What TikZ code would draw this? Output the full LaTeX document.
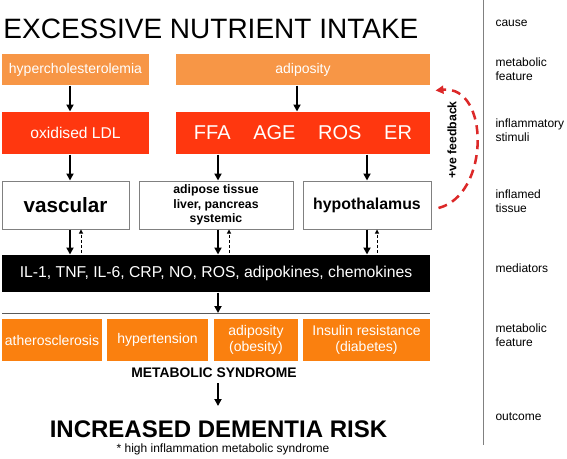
\documentclass[tikz,border=0pt]{standalone}
\usepackage{fontspec}
\setmainfont{Liberation Sans}
\usetikzlibrary{arrows.meta}

\tikzset{every picture/.style={line width=0.75pt}}
\tikzset{
  box/.style 2 args={minimum width=#1*0.75pt, minimum height=#2*0.75pt, inner sep=0pt, text=white, align=center},
  featbox/.style={fill={rgb, 255:red, 247; green, 150; blue, 70 }},
  stimbox/.style={fill={rgb, 255:red, 255; green, 55; blue, 15 }},
  tissbox/.style={draw={rgb, 255:red, 128; green, 128; blue, 128 }, fill=white, text=black},
  syndbox/.style={fill={rgb, 255:red, 250; green, 128; blue, 15 }},
  arr/.style={line width=1.5pt, -{Triangle[length=5.25pt, width=5.25pt]}},
  backarr/.style={line width=0.75pt, dash pattern=on 2.25pt off 1.5pt, -{Triangle[length=3pt, width=3pt]}},
  fbarr/.style={draw={rgb, 255:red, 220; green, 40; blue, 40 }, line width=1.9pt, dash pattern=on 6.75pt off 4.5pt, -{Triangle[length=6pt, width=6pt]}},
  side/.style={anchor=west, align=left, inner sep=0pt, font=\fontsize{9}{10.5}\selectfont}
}

\begin{document}
\begin{tikzpicture}[x=0.75pt,y=0.75pt,yscale=-1,xscale=1]
	\useasboundingbox (0,0) rectangle (567,458);

	% Text Node
	\node [anchor=base west, inner sep=0pt, font=\fontsize{21}{25}\selectfont] (title) at (3,38) {EXCESSIVE NUTRIENT INTAKE};

	%Shape: Rectangle 
	\node [box={147}{31}, featbox, font=\fontsize{10.5}{12}\selectfont] (hyper) at (75.5,69.5) {hypercholesterolemia};
	\node [box={254}{31}, featbox, font=\fontsize{10.5}{12}\selectfont] (adip) at (303,69.5) {adiposity};
	%Shape: Rectangle 
	\node [box={147}{42}, stimbox, font=\fontsize{11.7}{14}\selectfont] (ldl) at (75.5,133) {oxidised LDL};
	\node [box={254}{42}, stimbox, font=\fontsize{15}{18}\selectfont] (stim) at (303,133) {FFA\hspace{17pt}AGE\hspace{17pt}ROS\hspace{17pt}ER};
	%Shape: Rectangle 
	\node [box={127}{48}, tissbox, font=\fontsize{15.5}{18}\selectfont\bfseries] (vasc) at (65.5,205) {vascular};
	\node [box={154}{48}, tissbox, font=\fontsize{9.2}{10.9}\selectfont\bfseries] (tiss) at (216,205) {adipose tissue\\liver, pancreas\\systemic};
	\node [box={128}{48}, tissbox, font=\fontsize{11.9}{14}\selectfont\bfseries] (hypo) at (367,205) {hypothalamus};
	%Shape: Rectangle 
	\node [box={428}{37}, fill=black, font=\fontsize{11.8}{14}\selectfont] (medi) at (216,273.5) {IL-1, TNF, IL-6, CRP, NO, ROS, adipokines, chemokines};
	%Shape: Rectangle 
	\node [box={100}{42}, syndbox, font=\fontsize{10.5}{12}\selectfont] (athero) at (52,340) {atherosclerosis};
	\node [box={101}{42}, syndbox, font=\fontsize{10.5}{12}\selectfont] (tens) at (157.5,340) {hypertension};
	\node [box={84}{42}, syndbox, font=\fontsize{10.5}{12}\selectfont] (obes) at (256,340) {adiposity\\(obesity)};
	\node [box={127}{42}, syndbox, font=\fontsize{10.5}{12}\selectfont] (insul) at (366.5,340) {Insulin resistance\\(diabetes)};

	% Text Node
	\node [inner sep=0pt, font=\fontsize{10.4}{12}\selectfont\bfseries] (ms) at (214,373) {METABOLIC SYNDROME};
	\node [inner sep=0pt, font=\fontsize{18}{21}\selectfont\bfseries] (risk) at (218.5,429) {INCREASED DEMENTIA RISK};
	\node [anchor=base, inner sep=0pt, font=\fontsize{9}{11}\selectfont] (note) at (223,452) {* high inflammation metabolic syndrome};

	% arrow columns
	\coordinate (colA) at (70,0);
	\coordinate (colB) at (218,0);
	\coordinate (colC) at (367,0);
	\coordinate (colD) at (297,0);
	\coordinate (colAd) at (81,0);
	\coordinate (colBd) at (229,0);
	\coordinate (colCd) at (377,0);
	\coordinate (sepL) at (2,313);
	\coordinate (sepR) at (430,313);

	%Straight Lines 
	\draw [arr] (hyper.south -| colA) -- (ldl.north -| colA);
	\draw [arr] (adip.south -| colD) -- (stim.north -| colD);
	\draw [arr] (ldl.south -| colA) -- (vasc.north -| colA);
	\draw [arr] (stim.south -| colB) -- (tiss.north -| colB);
	\draw [arr] (stim.south -| colC) -- (hypo.north -| colC);
	\draw [arr] (vasc.south -| colA) -- (medi.north -| colA);
	\draw [arr] (tiss.south -| colB) -- (medi.north -| colB);
	\draw [arr] (hypo.south -| colC) -- (medi.north -| colC);
	\draw [backarr, shorten <=1.5pt] (medi.north -| colAd) -- (vasc.south -| colAd);
	\draw [backarr, shorten <=1.5pt] (medi.north -| colBd) -- (tiss.south -| colBd);
	\draw [backarr, shorten <=1.5pt] (medi.north -| colCd) -- (hypo.south -| colCd);
	\draw [arr] (medi.south -| colB) -- (sepL -| colB);
	\draw [draw={rgb, 255:red, 90; green, 90; blue, 90 }] (sepL) -- (sepR);
	\draw [arr, shorten <=3.75pt, shorten >=10.5pt] (ms.south -| colB) -- (risk.north -| colB);

	%Curve Lines 
	\draw [fbarr] ([xshift=5.25pt, yshift=2.25pt]hypo.east) .. controls (490,195) and (490,85) .. ([xshift=3.75pt, yshift=3.75pt]adip.south east);
	% Text Node
	\node [rotate=90, inner sep=0pt, font=\fontsize{9.2}{11}\selectfont\bfseries] (fb) at (452,140) {+ve feedback};

	%Straight Lines 
	\coordinate (divT) at (483,0);
	\coordinate (divB) at (483,445);
	\draw [draw={rgb, 255:red, 128; green, 128; blue, 128 }] (divT) -- (divB);

	% Text Node
	\node [side] (lcause) at (495,23) {cause};
	\node [side] (lfeat) at (495,69) {metabolic\\feature};
	\node [side] (lstim) at (495,130.5) {inflammatory\\stimuli};
	\node [side] (ltiss) at (495,201.5) {inflamed\\tissue};
	\node [side] (lmedi) at (495,268) {mediators};
	\node [side] (lsynd) at (495,335.5) {metabolic\\feature};
	\node [side] (lout) at (495,417) {outcome};
\end{tikzpicture}
\end{document}
